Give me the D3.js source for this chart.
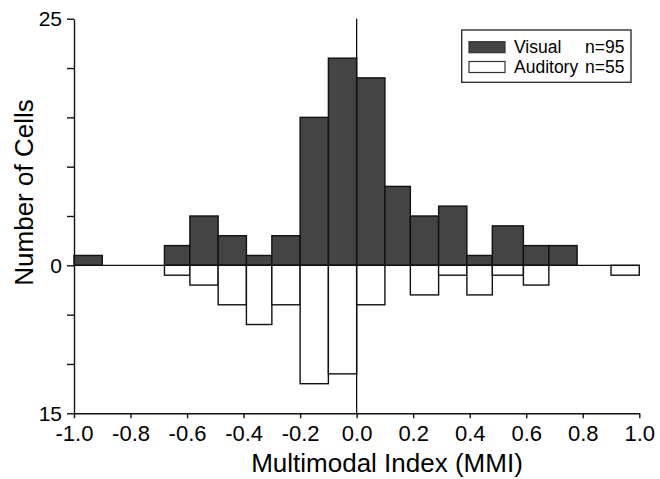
<!DOCTYPE html>
<html>
<head>
<meta charset="utf-8">
<script src="https://cdn.jsdelivr.net/npm/d3@7"></script>
<style>
  html, body { margin: 0; padding: 0; background: #fff; }
  svg { display: block; font-family: "Liberation Sans", Arial, sans-serif; }
</style>
</head>
<body>
<svg id="chart" width="660" height="479"></svg>
<script>
// ---- data ----
const binLeft  = [-1.00, -0.68, -0.59, -0.49, -0.39, -0.30, -0.20, -0.10, 0.00, 0.10, 0.19, 0.29, 0.39, 0.48, 0.59, 0.68, 0.90];
const binRight = [-0.90, -0.59, -0.49, -0.39, -0.30, -0.20, -0.10, 0.00, 0.10, 0.19, 0.29, 0.39, 0.48, 0.59, 0.68, 0.78, 1.00];
const visualCounts   = [1, 2, 5, 3, 1, 3, 15, 21, 19, 8, 5, 6, 1, 4, 2, 2, 0];
const auditoryCounts = [0, 1, 2, 4, 6, 4, 12, 11, 4, 0, 3, 1, 3, 1, 2, 0, 1];
const xTicks = [-1.0, -0.8, -0.6, -0.4, -0.2, 0.0, 0.2, 0.4, 0.6, 0.8, 1.0];
const yTicks = [-15, -10, -5, 0, 5, 10, 15, 20, 25];
const yLabelled = [25, 0, -15];
const legendLabels = ["Visual", "Auditory"];
const legendN = ["n=95", "n=55"];
const xTitle = "Multimodal Index (MMI)";
const yTitle = "Number of Cells";

// ---- layout ----
const svg = d3.select("#chart");
const L = 74, R = 639.3, T = 18.7, B = 413.3;
const x = d3.scaleLinear().domain([-1, 1]).range([L, R]);
const y = d3.scaleLinear().domain([-15, 25]).range([B, T]);
const darkFill = "#444444";
const ink = "#111";

const bins = binLeft.map((x0, i) => ({x0, x1: binRight[i], v: visualCounts[i], a: auditoryCounts[i]}));

// visual bars (upwards)
svg.append("g").selectAll("rect").data(bins.filter(d => d.v > 0)).join("rect")
  .attr("x", d => x(d.x0)).attr("width", d => x(d.x1) - x(d.x0))
  .attr("y", d => y(d.v)).attr("height", d => y(0) - y(d.v))
  .attr("fill", darkFill).attr("stroke", ink).attr("stroke-width", 1.4);

// auditory bars (downwards)
svg.append("g").selectAll("rect").data(bins.filter(d => d.a > 0)).join("rect")
  .attr("x", d => x(d.x0)).attr("width", d => x(d.x1) - x(d.x0))
  .attr("y", y(0)).attr("height", d => y(-d.a) - y(0))
  .attr("fill", "#fff").attr("stroke", ink).attr("stroke-width", 1.4);

// zero line and vertical line at 0
svg.append("line").attr("x1", x(-1)).attr("x2", x(1)).attr("y1", y(0)).attr("y2", y(0))
  .attr("stroke", ink).attr("stroke-width", 1.3);
svg.append("line").attr("x1", x(0)).attr("x2", x(0)).attr("y1", y(25)).attr("y2", y(-15))
  .attr("stroke", ink).attr("stroke-width", 1.3);

// y axis
const yAxis = svg.append("g").attr("transform", `translate(${L},0)`)
  .call(d3.axisLeft(y).tickValues(yTicks).tickSize(7).tickSizeOuter(0).tickPadding(5)
    .tickFormat(d => yLabelled.includes(d) ? String(Math.abs(d)) : ""));
yAxis.selectAll("path, line").attr("stroke", ink).attr("stroke-width", 1.4);
yAxis.selectAll("text").attr("font-size", 21).attr("fill", "#000")
  .attr("font-family", "'Liberation Sans', Arial, sans-serif");

// x axis
const xAxis = svg.append("g").attr("transform", `translate(0,${B})`)
  .call(d3.axisBottom(x).tickValues(xTicks).tickSize(5).tickSizeOuter(0).tickPadding(7)
    .tickFormat(d => d3.format(".1f")(d).replace("\u2212", "-")));
xAxis.selectAll("path, line").attr("stroke", ink).attr("stroke-width", 1.4);
xAxis.selectAll("text").attr("font-size", 22).attr("fill", "#000")
  .attr("font-family", "'Liberation Sans', Arial, sans-serif");

// axis titles
svg.append("text").attr("x", 387).attr("y", 472).attr("text-anchor", "middle")
  .attr("font-size", 26).attr("fill", "#000").text(xTitle);
svg.append("text").attr("transform", "translate(33,192.5) rotate(-90)").attr("text-anchor", "middle")
  .attr("font-size", 26).attr("fill", "#000").text(yTitle);

// legend
const lg = svg.append("g");
lg.append("rect").attr("x", 461.7).attr("y", 30).attr("width", 169.3).attr("height", 52.3)
  .attr("fill", "#fff").attr("stroke", "#333").attr("stroke-width", 1.4);
const legFills = [darkFill, "#fff"];
const legY = [41.7, 61.5];
legendLabels.forEach((lab, i) => {
  lg.append("rect").attr("x", 469).attr("y", legY[i]).attr("width", 36).attr("height", 11)
    .attr("fill", legFills[i]).attr("stroke", "#333").attr("stroke-width", 1.2);
  lg.append("text").attr("x", 514).attr("y", legY[i] + 11).attr("font-size", 17.5)
    .attr("fill", "#000").text(lab);
  lg.append("text").attr("x", 624.5).attr("y", legY[i] + 11).attr("font-size", 17.5)
    .attr("text-anchor", "end").attr("fill", "#000").text(legendN[i]);
});
</script>
</body>
</html>
